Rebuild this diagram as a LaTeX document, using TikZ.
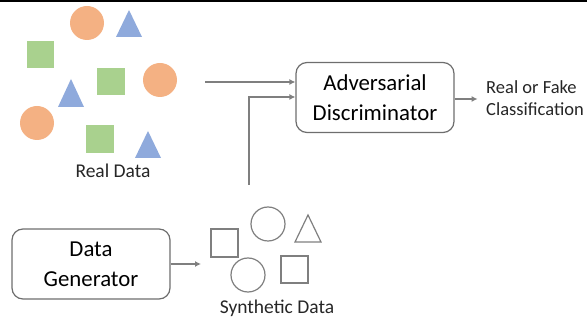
\documentclass[tikz,border=0pt]{standalone}
\usepackage{fontspec}
\setmainfont{Carlito}
\usetikzlibrary{arrows.meta}
\definecolor{dotorange}{HTML}{F4B183}
\definecolor{dotgreen}{HTML}{A9D18E}
\definecolor{dotblue}{HTML}{8FAADC}
\definecolor{linegray}{HTML}{7F7F7F}
\definecolor{boxgray}{HTML}{6E6E6E}
\begin{document}
\begin{tikzpicture}[x=1pt,y=-1pt,
  block/.style={draw=boxgray, line width=1.2pt, rounded corners=11pt, fill=white,
    minimum width=158pt, minimum height=70pt, align=center,
    font=\fontsize{22.8}{30}\selectfont},
  label/.style={font=\fontsize{19.5}{22}\selectfont, align=left, text=black!85},
  flow/.style={draw=linegray, line width=1.6pt, -{Latex[length=6pt,width=6pt]}},
  rball/.style={fill=dotorange},
  rsq/.style={fill=dotgreen},
  rtri/.style={fill=dotblue},
  hollow/.style={draw=linegray, line width=1.2pt}]
  \useasboundingbox (0,0) rectangle (587,320);
  \fill[black] (0,0) rectangle (587,2.5);

  % real data samples
  \fill[rball] (87,23) circle (17);
  \fill[rball] (160,80) circle (17);
  \fill[rball] (37,123) circle (17);
  \fill[rsq] (27,41) rectangle (54,68);
  \fill[rsq] (97,68) rectangle (125,95);
  \fill[rsq] (86,125) rectangle (114,153);
  \fill[rtri] (129,10) -- (142,37) -- (116,37) -- cycle;
  \fill[rtri] (71,79) -- (84,107) -- (58,107) -- cycle;
  \fill[rtri] (148,131) -- (161,158) -- (135,158) -- cycle;
  \node[label] (realtxt) at (113,171) {Real Data};

  % synthetic samples
  \draw[hollow] (211,229) rectangle (238,257);
  \draw[hollow] (281,256) rectangle (308,283);
  \draw[hollow] (268,224) circle (17);
  \draw[hollow] (248,275) circle (17);
  \draw[hollow] (308,215) -- (321,242) -- (295,242) -- cycle;
  \node[label] (syntxt) at (277,308) {Synthetic Data};

  % processing blocks
  \node[block] (disc) at (375,97.5) {Adversarial\\Discriminator};
  \node[block] (gen) at (91,264) {Data\\Generator};
  \node[label, anchor=west, inner sep=0pt, font=\fontsize{18.5}{22}\selectfont]
    (out) at (486,98) {Real or Fake\\Classification};

  % connectors
  \coordinate (realsrc) at (205,82);
  \coordinate (synsrc) at (249,185);
  \coordinate (synbend) at (249,97);
  \coordinate (syndst) at (201,264);
  \draw[flow] (realsrc) -- (realsrc -| disc.west);
  \draw[flow] (synsrc) -- (synbend) -- (synbend -| disc.west);
  \draw[flow] (disc.east |- 0,99) -- ++(23,0);
  \draw[flow] (gen.east) -- (syndst);
\end{tikzpicture}
\end{document}
